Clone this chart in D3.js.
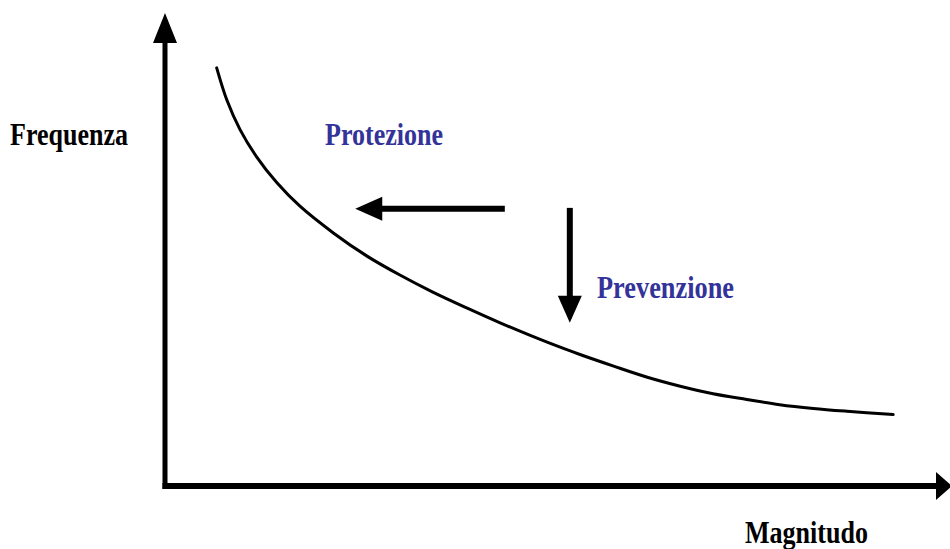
<!DOCTYPE html>
<html>
<head>
<meta charset="utf-8">
<script src="https://cdn.jsdelivr.net/npm/d3@7"></script>
<style>
  body { margin: 0; background: #fff; }
  svg { display: block; }
  text { font-family: "Liberation Serif", "Times New Roman", serif; font-weight: bold; }
  .lbl-blue { fill: #333399; }
  .lbl-black { fill: #000; }
</style>
</head>
<body>
<svg width="950" height="549"></svg>
<script>
// **** Data (in chart units: magnitude 0-10, frequency 0-10) ****

var magnitude = [0.66, 0.79, 0.96, 1.17, 1.43, 1.72, 2.15, 2.58, 3.00, 3.42, 3.86, 4.28,
                 4.88, 5.30, 5.72, 6.16, 6.58, 7.00, 7.43, 7.85, 8.28, 8.71, 9.30];
var frequency = [8.84, 8.16, 7.53, 6.96, 6.41, 5.92, 5.35, 4.86, 4.46, 4.10, 3.76, 3.45,
                 3.04, 2.78, 2.54, 2.30, 2.11, 1.95, 1.83, 1.72, 1.64, 1.58, 1.51];

var axisTitles = ["Frequenza", "Magnitudo"];
var strategies = ["Protezione", "Prevenzione"];

// arrows: start point -> tip (chart units)
var arrowStart = [[4.34, 5.86], [5.17, 5.88]];
var arrowTip   = [[2.43, 5.86], [5.17, 3.45]];

// **** Scales ****

var xScale = d3.scaleLinear().domain([0, 10]).range([165, 948]);
var yScale = d3.scaleLinear().domain([0, 10]).range([486, 13]);

var svg = d3.select('svg');

// **** Axes with arrow heads ****

var x0 = xScale(0), y0 = yScale(0);

svg.append('line')
    .attr('x1', x0).attr('y1', y0 + 3)
    .attr('x2', x0).attr('y2', yScale(10) + 28)
    .attr('stroke', '#000').attr('stroke-width', 5);

svg.append('path')
    .attr('d', 'M' + x0 + ',' + yScale(10) + 'L' + (x0 - 12) + ',' + (yScale(10) + 30) +
               'L' + (x0 + 12) + ',' + (yScale(10) + 30) + 'Z')
    .attr('fill', '#000');

svg.append('line')
    .attr('x1', x0 - 2.5).attr('y1', y0)
    .attr('x2', xScale(10) - 12).attr('y2', y0)
    .attr('stroke', '#000').attr('stroke-width', 6);

svg.append('path')
    .attr('d', 'M' + (xScale(10) + 4) + ',' + y0 + 'L' + (xScale(10) - 12) + ',' + (y0 - 14) +
               'L' + (xScale(10) - 12) + ',' + (y0 + 14) + 'Z')
    .attr('fill', '#000');

// **** Curve ****

var line = d3.line()
    .x(function(d, i) { return xScale(magnitude[i]); })
    .y(function(d, i) { return yScale(frequency[i]); })
    .curve(d3.curveCatmullRom.alpha(0.5));

svg.append('path')
    .datum(magnitude)
    .attr('d', line)
    .attr('fill', 'none')
    .attr('stroke', '#000')
    .attr('stroke-width', 3)
    .attr('stroke-linecap', 'round');

// **** Arrows ****

arrowStart.forEach(function(s, i) {
    var t = arrowTip[i];
    var sx = xScale(s[0]), sy = yScale(s[1]);
    var tx = xScale(t[0]), ty = yScale(t[1]);
    var dx = tx - sx, dy = ty - sy;
    var len = Math.sqrt(dx * dx + dy * dy);
    var ux = dx / len, uy = dy / len;
    var headLen = 27, headHalf = 12;
    var bx = tx - ux * headLen, by = ty - uy * headLen;

    svg.append('line')
        .attr('x1', sx).attr('y1', sy)
        .attr('x2', bx + ux * 2).attr('y2', by + uy * 2)
        .attr('stroke', '#000').attr('stroke-width', 6);

    svg.append('path')
        .attr('d', 'M' + tx + ',' + ty +
                   'L' + (bx - uy * headHalf) + ',' + (by + ux * headHalf) +
                   'L' + (bx + uy * headHalf) + ',' + (by - ux * headHalf) + 'Z')
        .attr('fill', '#000');
});

// **** Labels ****

svg.append('text')
    .attr('class', 'lbl-black')
    .attr('x', 10).attr('y', 145)
    .attr('font-size', 32)
    .attr('textLength', 118).attr('lengthAdjust', 'spacingAndGlyphs')
    .text(axisTitles[0]);

svg.append('text')
    .attr('class', 'lbl-black')
    .attr('x', 745).attr('y', 543)
    .attr('font-size', 31)
    .attr('textLength', 123).attr('lengthAdjust', 'spacingAndGlyphs')
    .text(axisTitles[1]);

svg.append('text')
    .attr('class', 'lbl-blue')
    .attr('x', 325).attr('y', 145)
    .attr('font-size', 32)
    .attr('textLength', 118).attr('lengthAdjust', 'spacingAndGlyphs')
    .text(strategies[0]);

svg.append('text')
    .attr('class', 'lbl-blue')
    .attr('x', 597).attr('y', 298)
    .attr('font-size', 31)
    .attr('textLength', 137).attr('lengthAdjust', 'spacingAndGlyphs')
    .text(strategies[1]);
</script>
</body>
</html>
